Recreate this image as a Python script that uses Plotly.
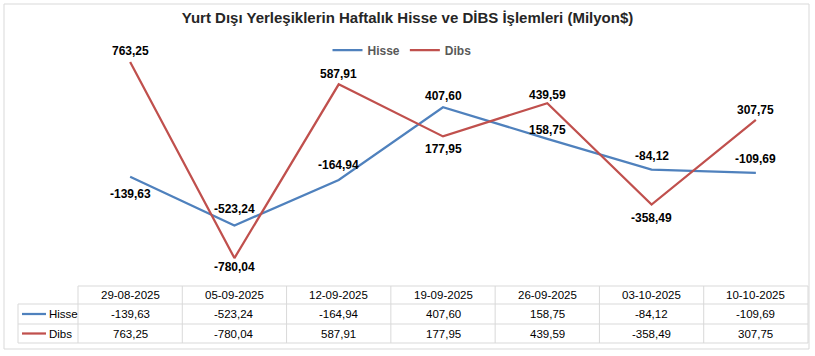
import plotly.graph_objects as go

dates = ["29-08-2025", "05-09-2025", "12-09-2025", "19-09-2025",
         "26-09-2025", "03-10-2025", "10-10-2025"]
hisse = [-139.63, -523.24, -164.94, 407.60, 158.75, -84.12, -109.69]
dibs = [763.25, -780.04, 587.91, 177.95, 439.59, -358.49, 307.75]
series_names = ["Hisse", "Dibs"]
title_text = "Yurt Dışı Yerleşiklerin Haftalık Hisse ve DİBS İşlemleri (Milyon$)"

# style
BLUE = "#4F81BD"
RED = "#C0504D"
GRID = "#D9D9D9"
W, H = 815, 356
L, R, T, B = 78, 7, 32, 70
hisse_shift = [-17, 16, 15, 11, 9, 14, 14]
dibs_shift = [11, -9, 10, -13, 8, -13, 10]


def fmt(v):
    return f"{v:.2f}".replace(".", ",")


def px(xp):
    return (xp - L) / (W - L - R)


def py(yp):
    return (H - B - yp) / (H - T - B)


fig = go.Figure()
fig.add_trace(go.Scatter(x=dates, y=hisse, mode="lines", name=series_names[0],
                         line=dict(color=BLUE, width=2.25), hoverinfo="skip"))
fig.add_trace(go.Scatter(x=dates, y=dibs, mode="lines", name=series_names[1],
                         line=dict(color=RED, width=2.25), hoverinfo="skip"))

ann = []
lab_font = dict(family="Liberation Sans, Arial", size=12, color="#000000")
for vals, shifts in ((hisse, hisse_shift), (dibs, dibs_shift)):
    for d, v, s in zip(dates, vals, shifts):
        ann.append(dict(x=d, y=v, xref="x", yref="y", text="<b>" + fmt(v) + "</b>",
                        showarrow=False, yshift=s, font=lab_font,
                        xanchor="center", yanchor="middle"))

# table
tab_font = dict(family="Liberation Sans, Arial", size=11.5, color="#000000")
row_y = [295, 314, 333.5]
for d in dates:
    ann.append(dict(x=d, y=py(row_y[0]), xref="x", yref="paper", text=d,
                    showarrow=False, font=tab_font, xanchor="center", yanchor="middle"))
for vals, ry in ((hisse, row_y[1]), (dibs, row_y[2])):
    for d, v in zip(dates, vals):
        ann.append(dict(x=d, y=py(ry), xref="x", yref="paper", text=fmt(v),
                        showarrow=False, font=tab_font, xanchor="center", yanchor="middle"))
for name, ry in zip(series_names, row_y[1:]):
    ann.append(dict(x=px(47), y=py(ry), xref="paper", yref="paper", text=name,
                    xanchor="left", yanchor="middle", showarrow=False, font=tab_font))

shapes = []
# outer border
shapes.append(dict(type="rect", xref="paper", yref="paper", x0=px(4), x1=px(809),
                   y0=py(349), y1=py(4), line=dict(color=GRID, width=1)))
# horizontal table lines
shapes.append(dict(type="line", xref="paper", yref="paper", x0=px(78), x1=px(808),
                   y0=py(286), y1=py(286), line=dict(color=GRID, width=1)))
for yl in (304, 324, 343):
    shapes.append(dict(type="line", xref="paper", yref="paper", x0=px(18), x1=px(808),
                       y0=py(yl), y1=py(yl), line=dict(color=GRID, width=1)))
# vertical lines
shapes.append(dict(type="line", xref="paper", yref="paper", x0=px(18), x1=px(18),
                   y0=py(304), y1=py(343), line=dict(color=GRID, width=1)))
ncol = len(dates)
for i in range(ncol + 1):
    xv = i / ncol
    shapes.append(dict(type="line", xref="paper", yref="paper", x0=xv, x1=xv,
                       y0=py(286), y1=py(343), line=dict(color=GRID, width=1)))
# legend keys in table
for col, ry in ((BLUE, row_y[1]), (RED, row_y[2])):
    shapes.append(dict(type="line", xref="paper", yref="paper", x0=px(22), x1=px(46),
                       y0=py(ry), y1=py(ry), line=dict(color=col, width=2.25)))

fig.update_layout(
    width=W, height=H,
    margin=dict(l=L, r=R, t=T, b=B),
    paper_bgcolor="white", plot_bgcolor="white",
    title=dict(text="<b>" + title_text + "</b>", x=0.5, xanchor="center",
               y=1 - 18 / H, yanchor="middle", yref="container",
               font=dict(family="Liberation Sans, Arial", size=15, color="#262626")),
    xaxis=dict(type="category", range=[-0.5, len(dates) - 0.5], visible=False),
    yaxis=dict(range=[-1000, 1000], visible=False),
    legend=dict(orientation="h", x=px(402), xanchor="center", y=py(50), yanchor="middle",
                font=dict(family="Liberation Sans, Arial", size=12, color="#595959",
                          weight="bold"),
                bgcolor="rgba(0,0,0,0)", itemwidth=30),
    annotations=ann,
    shapes=shapes,
)

fig.write_html("out.html", config={"displayModeBar": False},
               post_script="document.body.style.margin='0';document.body.style.overflow='hidden';")
